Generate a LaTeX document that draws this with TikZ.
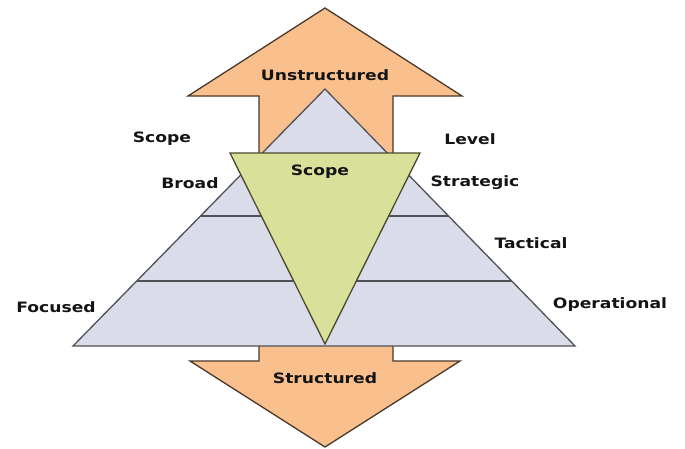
\documentclass[tikz,border=0pt]{standalone}
\usepackage{fontspec}
\setmainfont{DejaVu Sans}[UprightFont=* Bold, FakeStretch=1.2]
\usetikzlibrary{calc}
\definecolor{arroworange}{HTML}{F9C08E}
\definecolor{arrowline}{HTML}{4A3828}
\definecolor{pyrfill}{HTML}{DADCEA}
\definecolor{pyrline}{HTML}{505058}
\definecolor{scopegreen}{HTML}{D8E09A}
\definecolor{scopeline}{HTML}{4A4A30}
\tikzset{
  arrowshape/.style={fill=arroworange, draw=arrowline, line width=1.3pt, line join=miter},
  pyrshape/.style={fill=pyrfill, draw=pyrline, line width=1.3pt},
  levelline/.style={draw=pyrline, line width=1.3pt},
  greenshape/.style={fill=scopegreen, draw=scopeline, line width=1.3pt},
  lbl/.style={font=\fontsize{14.3}{16}\selectfont, text=black!92, inner sep=0pt}
}
\begin{document}
\begin{tikzpicture}[x=1pt,y=-1pt]
\useasboundingbox (0,0) rectangle (685,448);
% up arrow
\coordinate (ut) at (325,8);
\draw[arrowshape] (ut) -- (462,96) -- (393,96) -- (393,156) -- (259,156) -- (259,96) -- (188,96) -- cycle;
% down arrow
\coordinate (dt) at (325,447);
\draw[arrowshape] (259,340) -- (393,340) -- (393,361) -- (460,361) -- (dt) -- (190,361) -- (259,361) -- cycle;
% pyramid
\coordinate (pa) at (325,89);
\coordinate (pl) at (73,346);
\coordinate (pr) at (575,346);
\draw[pyrshape] (pa) -- (pr) -- (pl) -- cycle;
\coordinate (l1a) at ($(pa)!0.494!(pl)$);
\coordinate (l1b) at ($(pa)!0.494!(pr)$);
\coordinate (l2a) at ($(pa)!0.747!(pl)$);
\coordinate (l2b) at ($(pa)!0.747!(pr)$);
\draw[levelline] (l1a) -- (l1b);
\draw[levelline] (l2a) -- (l2b);
% green scope triangle
\coordinate (gl) at (230,153);
\coordinate (gr) at (420,153);
\coordinate (gt) at (325,344);
\draw[greenshape] (gl) -- (gr) -- (gt) -- cycle;
% labels
\node[lbl] (unstr) at (325,75) {Unstructured};
\node[lbl] (str) at (325,378) {Structured};
\node[lbl] (scopeL) at (162,139) {Scope};
\node[lbl] (level) at (470,139) {Level};
\node[lbl] (scopeM) at (320,172) {Scope};
\node[lbl] (broad) at (190,183) {Broad};
\node[lbl] (strat) at (475,183) {Strategic};
\node[lbl] (tact) at (531,243) {Tactical};
\node[lbl] (focus) at (56,307) {Focused};
\node[lbl] (oper) at (610,305) {Operational};
\end{tikzpicture}
\end{document}
